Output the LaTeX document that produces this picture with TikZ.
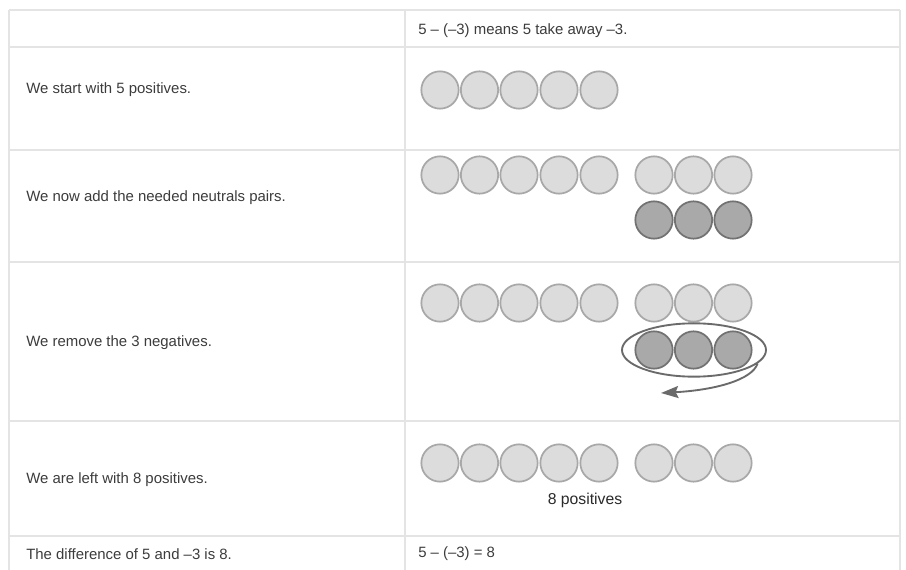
\documentclass[tikz,border=0pt]{standalone}
\usepackage{fontspec}
\setmainfont{Liberation Sans}
\usetikzlibrary{shapes.geometric,arrows.meta}
\definecolor{gridc}{HTML}{E4E4E4}
\definecolor{txtc}{HTML}{3C3C3C}
\definecolor{posfill}{HTML}{DCDCDC}
\definecolor{posdraw}{HTML}{A8A8A8}
\definecolor{negfill}{HTML}{A9A9A9}
\definecolor{negdraw}{HTML}{727272}
\definecolor{ringc}{HTML}{6A6A6A}
\begin{document}
\begin{tikzpicture}[x=0.75pt,y=-0.75pt,
  gridline/.style={draw=gridc,line width=1.4pt},
  lbl/.style={anchor=west,inner sep=0pt,text=txtc,font=\fontsize{11.2}{13}\selectfont},
  poschip/.style={circle,draw=posdraw,fill=posfill,line width=1.3pt,minimum size=28pt,inner sep=0pt},
  negchip/.style={circle,draw=negdraw,fill=negfill,line width=1.3pt,minimum size=28pt,inner sep=0pt},
  ring/.style={ellipse,draw=ringc,line width=1.4pt,minimum width=108pt,minimum height=40pt,inner sep=0pt},
  caplabel/.style={inner sep=0pt,text=txtc!70!black,font=\fontsize{11.8}{13}\selectfont}]
\useasboundingbox (0,0) rectangle (906,570);
\fill[white] (0,0) rectangle (906,570);
% table grid
\foreach \y in {10,47,150,262,421,536} \draw[gridline] (9,\y) -- (900,\y);
\draw[gridline] (9,10) -- (9,570);
\draw[gridline] (405,10) -- (405,570);
\draw[gridline] (900,10) -- (900,570);
% left column texts
\node[lbl] (t1) at (26,90) {We start with 5 positives.};
\node[lbl] (t2) at (26,198) {We now add the needed neutrals pairs.};
\node[lbl] (t3) at (26,343) {We remove the 3 negatives.};
\node[lbl] (t4) at (26,480) {We are left with 8 positives.};
\node[lbl] (t5) at (26,554) {The difference of 5 and \textendash3 is 8.};
% right column texts
\node[lbl] (h0) at (418,31) {5 \textendash\ (\textendash3) means 5 take away \textendash3.};
\node[lbl] (h5) at (418,554) {5 \textendash\ (\textendash3) = 8};
% row 1
\foreach \x [count=\i] in {440,479.5,519,559,599}
  \node[poschip] (a\i) at (\x,90) {};
% row 2
\foreach \x [count=\i] in {440,479.5,519,559,599,654,693.5,733}
  \node[poschip] (b\i) at (\x,175) {};
\foreach \x [count=\i] in {654,693.5,733}
  \node[negchip] (bn\i) at (\x,220) {};
% row 3
\foreach \x [count=\i] in {440,479.5,519,559,599,654,693.5,733}
  \node[poschip] (c\i) at (\x,303) {};
\foreach \x [count=\i] in {654,693.5,733}
  \node[negchip] (cn\i) at (\x,350) {};
\node[ring] (ring) at (694,350) {};
\coordinate (tip) at (661,393);
\draw[ringc,line width=1.4pt,-{Stealth[length=13pt,width=9pt,inset=2pt]}] (ring.-12) .. controls (752,380) and (715,390) .. (tip);
% row 4
\foreach \x [count=\i] in {440,479.5,519,559,599,654,693.5,733}
  \node[poschip] (d\i) at (\x,463) {};
\node[caplabel] (lab) at (585,500) {8 positives};
\end{tikzpicture}
\end{document}
